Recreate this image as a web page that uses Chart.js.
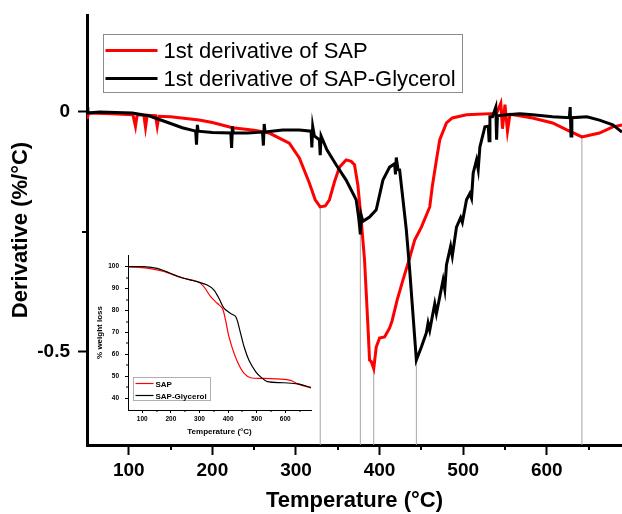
<!DOCTYPE html>
<html>
<head>
<meta charset="utf-8">
<script src="https://cdn.jsdelivr.net/npm/chart.js@4.4.0/dist/chart.umd.min.js"></script>
<style>
  html, body { margin: 0; padding: 0; background: #fff; }
  #wrap { position: relative; width: 622px; height: 514px; }
  #main { position: absolute; left: 0; top: 0; }
  #inset { position: absolute; left: 88px; top: 250px; }
</style>
</head>
<body>
<div id="wrap">
  <canvas id="main" width="622" height="514"></canvas>
  <canvas id="inset" width="232" height="195"></canvas>
</div>
<script>
// DTG curves (derivative of weight, %/°C)
const sapDtgT = [50, 52, 80, 105, 108, 110, 118, 120, 122, 132, 134, 136, 150, 184, 200, 224, 250, 268, 292, 304, 316, 323, 329, 335, 340, 346, 352, 360, 366, 370, 374, 378, 382, 386, 388, 390, 393, 396, 400, 406, 412, 415, 421, 428, 436, 442, 450, 460, 463, 468, 472, 480, 487, 504, 540, 545, 547, 550, 553, 556, 560, 583, 607, 624, 642, 663, 679, 690];
const sapDtgV = [-0.015, -0.002, -0.004, -0.006, -0.03, -0.006, -0.007, -0.032, -0.007, -0.008, -0.03, -0.009, -0.01, -0.017, -0.022, -0.033, -0.038, -0.044, -0.065, -0.096, -0.148, -0.183, -0.198, -0.196, -0.183, -0.146, -0.115, -0.1, -0.103, -0.11, -0.152, -0.225, -0.308, -0.444, -0.517, -0.52, -0.535, -0.49, -0.471, -0.469, -0.45, -0.435, -0.392, -0.35, -0.304, -0.267, -0.24, -0.198, -0.156, -0.1, -0.058, -0.023, -0.0125, -0.006, -0.003, 0.018, -0.035, 0.015, -0.04, -0.005, -0.006, -0.0125, -0.023, -0.0375, -0.052, -0.044, -0.031, -0.027];

const glyDtgT = [50, 51, 65, 104, 124, 145, 164, 180, 181, 182, 183, 200, 222, 223, 224, 225, 242, 260, 261, 262, 263, 284, 304, 318, 319, 320, 322, 328, 329, 330, 337, 348, 360, 372, 375, 377, 378, 380, 388, 396, 404, 412, 418, 419, 420, 422, 424, 428, 432, 436, 444, 450, 456, 458, 460, 463, 466, 468, 472, 476, 478, 480, 485, 487, 492, 497, 499, 504, 508, 510, 512, 516, 518, 520, 526, 530, 531, 532, 535, 539, 540, 541, 552, 568, 583, 607, 627, 628, 629, 630, 648, 663, 679, 690];
const glyDtgV = [0.01, -0.002, 0, -0.002, -0.008, -0.021, -0.033, -0.04, -0.068, -0.027, -0.04, -0.043, -0.044, -0.075, -0.03, -0.044, -0.044, -0.042, -0.07, -0.025, -0.042, -0.0375, -0.0375, -0.04, -0.074, -0.03, -0.05, -0.058, -0.09, -0.05, -0.079, -0.11, -0.142, -0.183, -0.22, -0.255, -0.215, -0.228, -0.219, -0.204, -0.142, -0.115, -0.108, -0.13, -0.095, -0.12, -0.121, -0.183, -0.246, -0.329, -0.517, -0.49, -0.46, -0.44, -0.455, -0.427, -0.4, -0.42, -0.385, -0.35, -0.37, -0.319, -0.28, -0.3, -0.24, -0.22, -0.23, -0.183, -0.17, -0.18, -0.127, -0.1, -0.12, -0.073, -0.031, -0.03, -0.06, -0.01, -0.01, 0.01, -0.058, -0.008, -0.006, -0.004, -0.006, -0.01, -0.012, 0.01, -0.05, -0.012, -0.01, -0.017, -0.027, -0.042];

// peak markers (drop lines from axis to the curve)
const peakT = [329, 377, 393, 444, 642];
const peakV = [-0.198, -0.235, -0.535, -0.517, -0.052];

const mainXTicks = [100, 200, 300, 400, 500, 600];
const mainXMinor = [150, 250, 350, 450, 550, 650];
const mainYTicks = [-0.5, 0];
const mainYMinor = [-0.25];

// TGA inset (% weight)
const sapTgaT = [50, 116, 175, 233, 292, 315, 339, 362, 380, 391, 403, 421, 438, 456, 479, 526, 584, 619, 643, 690];
const sapTgaW = [100, 99.3, 97.8, 95.1, 93.2, 90.9, 86.3, 83.3, 81, 75.7, 68.1, 60.5, 55.2, 51.4, 49.4, 49.1, 48.8, 48.2, 46.6, 44.8];
const glyTgaT = [50, 105, 152, 198, 245, 292, 327, 350, 368, 386, 409, 427, 438, 456, 473, 497, 514, 538, 596, 643, 690];
const glyTgaW = [100, 100, 99.2, 97, 94.7, 93.2, 91.6, 89.4, 85.6, 81, 78.7, 77.2, 72.6, 63.5, 57.4, 52.1, 49.8, 47.6, 47.1, 46.6, 45];

const insetXTicks = [100, 200, 300, 400, 500, 600];
const insetXMinor = [150, 250, 350, 450, 550, 650];
const insetYTicks = [40, 50, 60, 70, 80, 90, 100];
const insetYMinor = [45, 55, 65, 75, 85, 95];

const FONT = "Arial, 'Liberation Sans', sans-serif";
const Y_MIN = -0.694;

const pts = (xs, ys) => xs.map((x, i) => ({ x: x, y: ys[i] }));

// keep the plot box where we put it: no extra room for end labels
const noPad = s => { s.paddingTop = 0; s.paddingBottom = 0; s.paddingLeft = 0; s.paddingRight = 0; };

const minorTicks = {
  id: 'minorTicks',
  afterDraw(chart, args, o) {
    const ctx = chart.ctx;
    const xs = chart.scales.x, ys = chart.scales.y;
    ctx.save();
    ctx.strokeStyle = '#000';
    ctx.lineWidth = o.width;
    o.x.forEach(v => {
      const px = Math.round(xs.getPixelForValue(v));
      ctx.beginPath(); ctx.moveTo(px, xs.top); ctx.lineTo(px, xs.top + o.length); ctx.stroke();
    });
    o.y.forEach(v => {
      const py = Math.round(ys.getPixelForValue(v));
      ctx.beginPath(); ctx.moveTo(ys.right, py); ctx.lineTo(ys.right - o.length, py); ctx.stroke();
    });
    ctx.restore();
  }
};

const boxLegend = {
  id: 'boxLegend',
  afterDraw(chart, args, o) {
    const { ctx, chartArea } = chart;
    const x0 = Math.round(chartArea.left + o.dx) + 0.5;
    const y0 = Math.round(chartArea.top + o.dy) + 0.5;
    const items = chart.data.datasets.filter(d => d.label);
    ctx.save();
    ctx.fillStyle = '#fff';
    ctx.fillRect(x0, y0, o.w, o.h);
    ctx.strokeStyle = o.border;
    ctx.lineWidth = 1;
    ctx.strokeRect(x0, y0, o.w, o.h);
    items.forEach((d, i) => {
      const y = y0 + o.firstRow + i * o.rowGap;
      ctx.strokeStyle = d.borderColor;
      ctx.lineWidth = o.lineWidth;
      ctx.beginPath();
      ctx.moveTo(x0 + o.lineStart, y);
      ctx.lineTo(x0 + o.lineStart + o.lineLen, y);
      ctx.stroke();
      ctx.fillStyle = '#000';
      ctx.font = o.font;
      ctx.textBaseline = 'middle';
      ctx.fillText(d.label, x0 + o.textStart, y + 1);
    });
    ctx.restore();
  }
};

const dropLines = peakT.map((t, i) => ({
  data: [{ x: t, y: Y_MIN }, { x: t, y: peakV[i] }],
  borderColor: '#a6a6a6',
  borderWidth: 1,
  pointRadius: 0,
  order: 3
}));

new Chart(document.getElementById('main'), {
  type: 'line',
  data: {
    datasets: [
      {
        label: '1st derivative of SAP',
        data: pts(sapDtgT, sapDtgV),
        borderColor: '#ff0000',
        borderWidth: 3,
        pointRadius: 0,
        tension: 0,
        order: 2
      },
      {
        label: '1st derivative of SAP-Glycerol',
        data: pts(glyDtgT, glyDtgV),
        borderColor: '#000000',
        borderWidth: 3,
        pointRadius: 0,
        tension: 0,
        order: 1
      },
      ...dropLines
    ]
  },
  options: {
    responsive: false,
    animation: false,
    layout: { padding: { top: 15, right: 0, left: 0, bottom: 0 } },
    scales: {
      x: {
        type: 'linear',
        min: 50,
        max: 690,
        afterBuildTicks: s => { s.ticks = mainXTicks.map(v => ({ value: v })); },
        afterFit: s => { s.height = 69; noPad(s); },
        grid: { display: true, drawOnChartArea: false, drawTicks: true, tickLength: 10, tickWidth: 2, tickColor: '#000' },
        border: { display: true, color: '#000', width: 3 },
        ticks: { color: '#000', padding: 4, maxRotation: 0, font: { family: FONT, size: 19, weight: 'bold' } },
        title: { display: true, text: 'Temperature (°C)', color: '#000', padding: { top: 0, bottom: 0 }, font: { family: FONT, size: 22, weight: 'bold' } }
      },
      y: {
        type: 'linear',
        min: Y_MIN,
        max: 0.202,
        afterBuildTicks: s => { s.ticks = mainYTicks.map(v => ({ value: v })); },
        afterFit: s => { s.width = 87; noPad(s); },
        grid: { display: true, drawOnChartArea: false, drawTicks: true, tickLength: 9, tickWidth: 2, tickColor: '#000' },
        border: { display: true, color: '#000', width: 3 },
        ticks: { color: '#000', padding: 8, font: { family: FONT, size: 19, weight: 'bold' }, callback: v => (v === 0 ? '0' : String(v)) },
        title: { display: true, text: 'Derivative (%/°C)', color: '#000', padding: { top: 8, bottom: 0 }, font: { family: FONT, size: 22, weight: 'bold' } }
      }
    },
    plugins: {
      legend: { display: false },
      tooltip: { enabled: false },
      minorTicks: { x: mainXMinor, y: mainYMinor, length: 5, width: 2 },
      boxLegend: { dx: 16, dy: 19, w: 359, h: 58, firstRow: 16, rowGap: 28, lineStart: 2, lineLen: 52, lineWidth: 3, textStart: 60, font: '22px ' + FONT, border: '#8c8c8c' }
    }
  },
  plugins: [minorTicks, boxLegend]
});

new Chart(document.getElementById('inset'), {
  type: 'line',
  data: {
    datasets: [
      {
        label: 'SAP',
        data: pts(sapTgaT, sapTgaW),
        borderColor: '#ff0000',
        borderWidth: 1.2,
        pointRadius: 0,
        tension: 0.3,
        order: 2
      },
      {
        label: 'SAP-Glycerol',
        data: pts(glyTgaT, glyTgaW),
        borderColor: '#000000',
        borderWidth: 1.2,
        pointRadius: 0,
        tension: 0.3,
        order: 1
      }
    ]
  },
  options: {
    responsive: false,
    animation: false,
    layout: { padding: { top: 5, right: 9, left: 0, bottom: 0 } },
    scales: {
      x: {
        type: 'linear',
        min: 50,
        max: 690,
        afterBuildTicks: s => { s.ticks = insetXTicks.map(v => ({ value: v })); },
        afterFit: s => { s.height = 35; noPad(s); },
        grid: { display: true, drawOnChartArea: false, drawTicks: true, tickLength: 3, tickWidth: 1, tickColor: '#000' },
        border: { display: true, color: '#000', width: 1 },
        ticks: { color: '#000', padding: 2, maxRotation: 0, font: { family: FONT, size: 6.5, weight: 'bold' } },
        title: { display: true, text: 'Temperature (°C)', color: '#000', padding: { top: 0, bottom: 8 }, font: { family: FONT, size: 8, weight: 'bold' } }
      },
      y: {
        type: 'linear',
        min: 34.7,
        max: 105.3,
        afterBuildTicks: s => { s.ticks = insetYTicks.map(v => ({ value: v })); },
        afterFit: s => { s.width = 40; noPad(s); },
        grid: { display: true, drawOnChartArea: false, drawTicks: true, tickLength: 3, tickWidth: 1, tickColor: '#000' },
        border: { display: true, color: '#000', width: 1 },
        ticks: { color: '#000', padding: 6, font: { family: FONT, size: 6.5, weight: 'bold' } },
        title: { display: true, text: '% weight loss', color: '#000', padding: { top: 7, bottom: 0 }, font: { family: FONT, size: 8, weight: 'bold' } }
      }
    },
    plugins: {
      legend: { display: false },
      tooltip: { enabled: false },
      minorTicks: { x: insetXMinor, y: insetYMinor, length: 2, width: 1 },
      boxLegend: { dx: 5, dy: 122, w: 77, h: 23, firstRow: 6, rowGap: 12, lineStart: 2, lineLen: 18, lineWidth: 1.2, textStart: 22, font: 'bold 8px ' + FONT, border: '#b0b0b0' }
    }
  },
  plugins: [minorTicks, boxLegend]
});
</script>
</body>
</html>
